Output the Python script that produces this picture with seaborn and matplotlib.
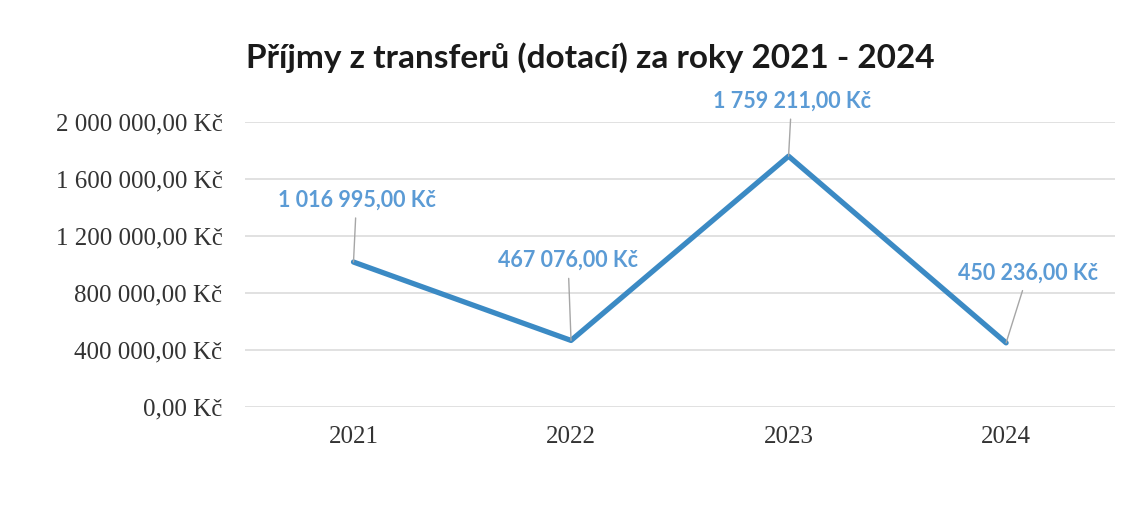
import matplotlib
matplotlib.use("Agg")
import matplotlib.pyplot as plt
import matplotlib.ticker as ticker
import pandas as pd
import seaborn as sns

YEARS = ['2021', '2022', '2023', '2024']
VALUES = [1016995.00, 467076.00, 1759211.00, 450236.00]
LABEL_OFFSETS = [(3, 62), (-3, 80), (3, 55), (22, 70)]  # pixels, label centre from point


def czk(v, pos=None):
    s = f"{v:,.2f}".replace(",", " ").replace(".", ",")
    return f"{s} Kč"


df = pd.DataFrame({'rok': YEARS, 'prijmy': VALUES})

sns.set_style("white")
plt.rcParams['font.family'] = ['Liberation Serif', 'DejaVu Serif']

fig = plt.figure(figsize=(11.33, 5.12), dpi=100)
ax = fig.add_axes([0.216, 0.205, 0.768, 0.557])

sns.lineplot(data=df, x='rok', y='prijmy', ax=ax, color='#3B8AC4', linewidth=3.8, sort=False)

ax.set_xlim(-0.5, 3.5)
ax.set_ylim(0, 2000000)
ax.yaxis.set_major_locator(ticker.MultipleLocator(400000))
ax.yaxis.set_major_formatter(ticker.FuncFormatter(czk))
ax.yaxis.grid(True, color='#dcdcdc', linewidth=1.2)
ax.xaxis.grid(False)
for s in ax.spines.values():
    s.set_visible(False)
ax.tick_params(axis='y', length=0, pad=16, labelsize=18, labelcolor='#333333')
ax.tick_params(axis='x', length=0, pad=14, labelsize=18, labelcolor='#333333')
ax.set_xlabel('')
ax.set_ylabel('')

for i, (v, off) in enumerate(zip(VALUES, LABEL_OFFSETS)):
    ax.annotate(czk(v), xy=(i, v), xytext=off, textcoords='offset pixels',
                ha='center', va='center', fontsize=15.5, fontweight='bold',
                color='#5B9BD5', family=['Lato', 'DejaVu Sans'],
                arrowprops=dict(arrowstyle='-', color='#a6a6a6', lw=1,
                                shrinkA=3, shrinkB=0))

fig.text(0.521, 0.888, 'Příjmy z transferů (dotací) za roky 2021 - 2024',
         ha='center', va='center', fontsize=24, fontweight='bold', color='#1a1a1a',
         family=['Lato', 'DejaVu Sans'])

plt.savefig('out.png', dpi=100)
